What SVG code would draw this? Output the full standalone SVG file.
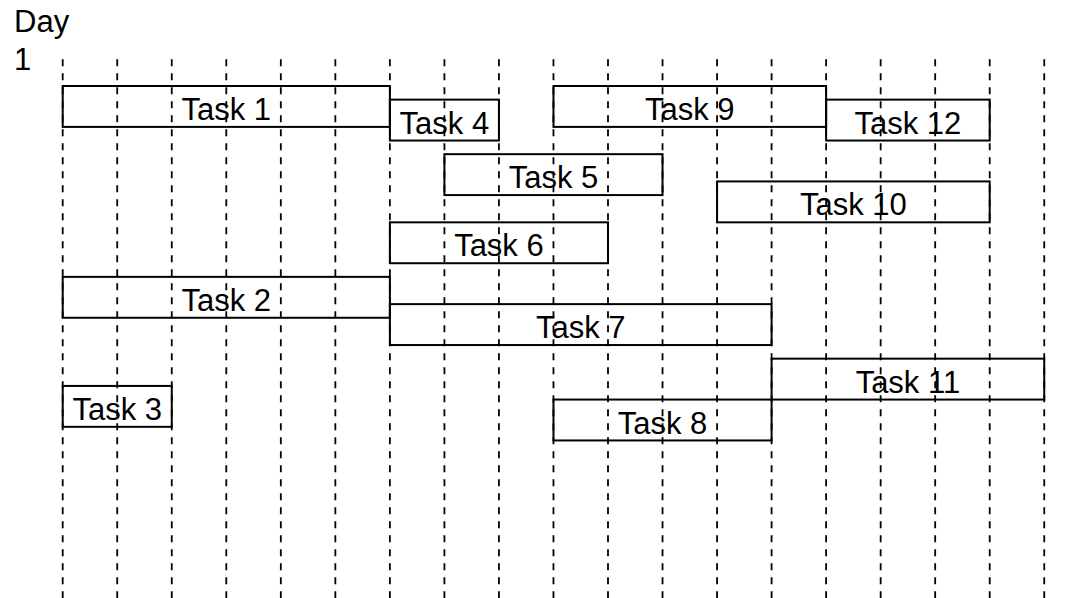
<svg xmlns="http://www.w3.org/2000/svg" width="1086" height="598" viewBox="0 0 1086 598">
  <style>
    .grid line { stroke: #000; stroke-width: 1.8; stroke-dasharray: 7 7; }
    .task rect { fill: none; stroke: #000; stroke-width: 2; }
    text { font-family: "Liberation Sans", Arial, sans-serif; font-size: 31px; fill: #000; }
    .task text { text-anchor: middle; }
  </style>
  <rect width="1086" height="598" fill="#fff"/>

  <!-- day axis label -->
  <g id="axis-label">
    <text x="14" y="32">Day</text>
    <text x="14" y="70">1</text>
  </g>

  <!-- dashed day dividers -->
  <g id="grid" class="grid">
    <line x1="62.7" y1="59.3" x2="62.7" y2="598"/>
    <line x1="117.23" y1="59.3" x2="117.23" y2="598"/>
    <line x1="171.76" y1="59.3" x2="171.76" y2="598"/>
    <line x1="226.29" y1="59.3" x2="226.29" y2="598"/>
    <line x1="280.82" y1="59.3" x2="280.82" y2="598"/>
    <line x1="335.35" y1="59.3" x2="335.35" y2="598"/>
    <line x1="389.88" y1="59.3" x2="389.88" y2="598"/>
    <line x1="444.41" y1="59.3" x2="444.41" y2="598"/>
    <line x1="498.94" y1="59.3" x2="498.94" y2="598"/>
    <line x1="553.47" y1="59.3" x2="553.47" y2="598"/>
    <line x1="608.0" y1="59.3" x2="608.0" y2="598"/>
    <line x1="662.53" y1="59.3" x2="662.53" y2="598"/>
    <line x1="717.06" y1="59.3" x2="717.06" y2="598"/>
    <line x1="771.59" y1="59.3" x2="771.59" y2="598"/>
    <line x1="826.12" y1="59.3" x2="826.12" y2="598"/>
    <line x1="880.65" y1="59.3" x2="880.65" y2="598"/>
    <line x1="935.18" y1="59.3" x2="935.18" y2="598"/>
    <line x1="989.71" y1="59.3" x2="989.71" y2="598"/>
    <line x1="1044.24" y1="59.3" x2="1044.24" y2="598"/>
  </g>

  <!-- task bars -->
  <g id="task1" class="task"><rect x="62.7" y="86" width="327.18" height="40.9"/><text x="226.29" y="120">Task 1</text></g>
  <g id="task4" class="task"><rect x="389.88" y="99.63" width="109.06" height="40.9"/><text x="444.41" y="133.63">Task 4</text></g>
  <g id="task9" class="task"><rect x="553.47" y="86" width="272.65" height="40.9"/><text x="689.8" y="120">Task 9</text></g>
  <g id="task12" class="task"><rect x="826.12" y="99.63" width="163.59" height="40.9"/><text x="907.9" y="133.63">Task 12</text></g>
  <g id="task5" class="task"><rect x="444.41" y="154.17" width="218.12" height="40.9"/><text x="553.47" y="188.17">Task 5</text></g>
  <g id="task10" class="task"><rect x="717.06" y="181.43" width="272.65" height="40.9"/><text x="853.38" y="215.43">Task 10</text></g>
  <g id="task6" class="task"><rect x="389.88" y="222.33" width="218.12" height="40.9"/><text x="498.94" y="256.33">Task 6</text></g>
  <g id="task2" class="task"><rect x="62.7" y="276.86" width="327.18" height="40.9"/><text x="226.29" y="310.86">Task 2</text></g>
  <g id="task7" class="task"><rect x="389.88" y="304.13" width="381.71" height="40.9"/><text x="580.74" y="338.13">Task 7</text></g>
  <g id="task11" class="task"><rect x="771.59" y="358.66" width="272.65" height="40.9"/><text x="907.9" y="392.66">Task 11</text></g>
  <g id="task3" class="task"><rect x="62.7" y="385.93" width="109.06" height="40.9"/><text x="117.23" y="419.93">Task 3</text></g>
  <g id="task8" class="task"><rect x="553.47" y="399.56" width="218.12" height="40.9"/><text x="662.53" y="433.56">Task 8</text></g>
</svg>
